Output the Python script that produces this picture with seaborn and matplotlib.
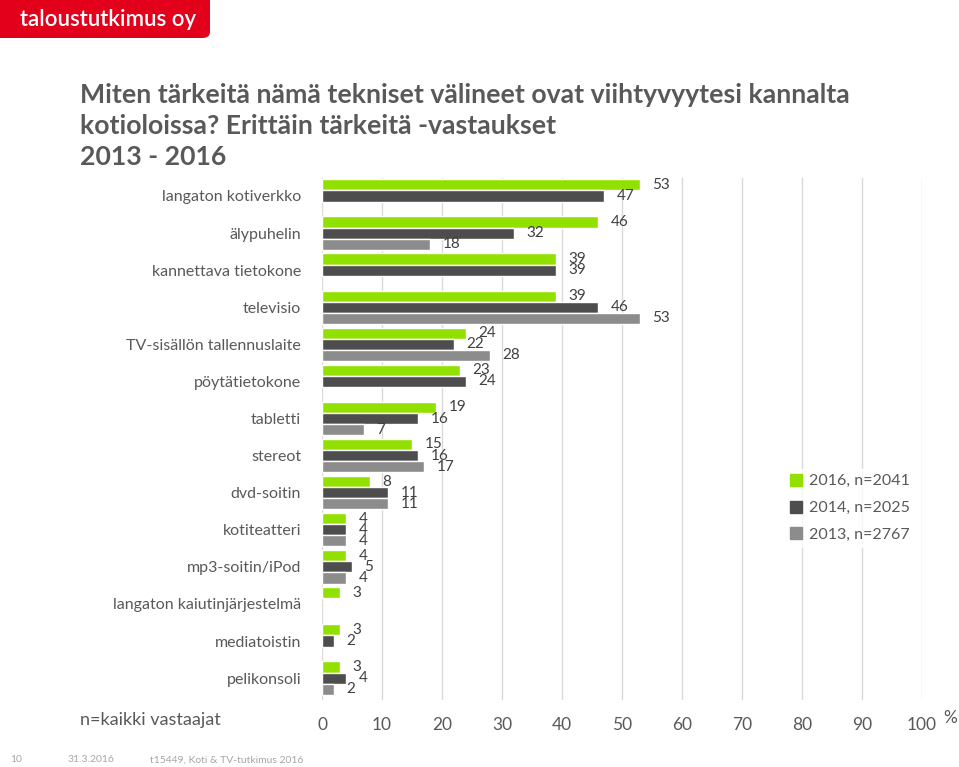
import numpy as np
import pandas as pd
import matplotlib
matplotlib.use("Agg")
import matplotlib.pyplot as plt
from matplotlib.patches import FancyBboxPatch
from matplotlib.lines import Line2D
import seaborn as sns

categories = ["langaton kotiverkko", "älypuhelin", "kannettava tietokone", "televisio",
              "TV-sisällön tallennuslaite", "pöytätietokone", "tabletti", "stereot",
              "dvd-soitin", "kotiteatteri", "mp3-soitin/iPod", "langaton kaiutinjärjestelmä",
              "mediatoistin", "pelikonsoli"]
nan = np.nan
v2016 = [53, 46, 39, 39, 24, 23, 19, 15, 8, 4, 4, 3, 3, 3]
v2014 = [47, 32, 39, 46, 22, 24, 16, 16, 11, 4, 5, nan, 2, 4]
v2013 = [nan, 18, nan, 53, 28, nan, 7, 17, 11, 4, 4, nan, nan, 2]
series = ["2016, n=2041", "2014, n=2025", "2013, n=2767"]
xticks = [0, 10, 20, 30, 40, 50, 60, 70, 80, 90, 100]

colors = ["#92E000", "#4D4D4D", "#8C8C8C"]
txt = "#595959"

rows = []
for s, vals in zip(series, [v2016, v2014, v2013]):
    for c, v in zip(categories, vals):
        rows.append({"cat": c, "series": s, "value": v})
df = pd.DataFrame(rows)

sns.set_theme(style="white")
plt.rcParams["font.family"] = ["Lato", "DejaVu Sans"]

fig = plt.figure(figsize=(9.59, 7.67), dpi=100)
ax = fig.add_axes([322/959, 1-700/767, 600/959, 522/767])

sns.barplot(data=df, y="cat", x="value", hue="series", order=categories,
            hue_order=series, palette=colors, orient="h", width=0.9,
            saturation=1, ax=ax, legend=False, errorbar=None)

for cont in ax.containers:
    labels = []
    for p in cont.patches:
        w = p.get_width()
        labels.append(f"{w:.0f}" if np.isfinite(w) and w > 0 else "")
    ax.bar_label(cont, labels=labels, padding=9, fontsize=11, color="#404040")

ax.set_xlim(0, 100)
ax.set_ylim(13.59, -0.485)
ax.set_xticks(xticks)
ax.set_xticklabels([str(t) for t in xticks])
ax.xaxis.grid(True, color="#D9D9D9", linewidth=1)
ax.set_axisbelow(True)
for sp in ax.spines.values():
    sp.set_visible(False)
ax.tick_params(axis="x", length=0, pad=12, labelsize=12.5, labelcolor=txt)
ax.tick_params(axis="y", length=0, pad=15, labelsize=11.5, labelcolor=txt)
ax.set_xlabel("")
ax.set_ylabel("")

handles = [Line2D([], [], marker="s", linestyle="", markersize=8,
                  markerfacecolor=c, markeredgecolor=c) for c in colors]
leg = fig.legend(handles, series, loc="center left",
                 bbox_to_anchor=(775/959, 1-508/767), frameon=True,
                 fontsize=11.5, labelcolor=txt, handletextpad=0.3,
                 labelspacing=0.8, borderpad=0.3, handlelength=1.0)
leg.get_frame().set_facecolor("white")
leg.get_frame().set_edgecolor("white")

# Title
fig.text(80/959, 1-95/767, "Miten tärkeitä nämä tekniset välineet ovat viihtyvyytesi kannalta",
         fontsize=19.2, fontweight="bold", color=txt, va="center", ha="left")
fig.text(80/959, 1-126/767, "kotioloissa? Erittäin tärkeitä -vastaukset",
         fontsize=19.2, fontweight="bold", color=txt, va="center", ha="left")
fig.text(80/959, 1-157/767, "2013 - 2016",
         fontsize=19.2, fontweight="bold", color=txt, va="center", ha="left")

fig.text(80/959, 1-720/767, "n=kaikki vastaajat", fontsize=13, color=txt,
         va="center", ha="left")
fig.text(943/959, 1-718/767, "%", fontsize=12.5, color=txt, va="center", ha="left")

# Logo
logo = FancyBboxPatch((-20/959, 1-38/767), 230/959, 60/767,
                      boxstyle="round,pad=0,rounding_size=0.008",
                      transform=fig.transFigure, facecolor="#E2001A",
                      edgecolor="none", zorder=0)
fig.patches.append(logo)
fig.text(20/959, 1-19/767, "taloustutkimus oy", fontsize=16, fontweight="semibold",
         color="white", va="center", ha="left")

# Footer
for x, s in [(10, "10"), (68, "31.3.2016"), (150, "t15449, Koti & TV-tutkimus 2016")]:
    fig.text(x/959, 1-760/767, s, fontsize=7.5, color="#A6A6A6", va="center", ha="left")

fig.savefig("out.png", dpi=100)
